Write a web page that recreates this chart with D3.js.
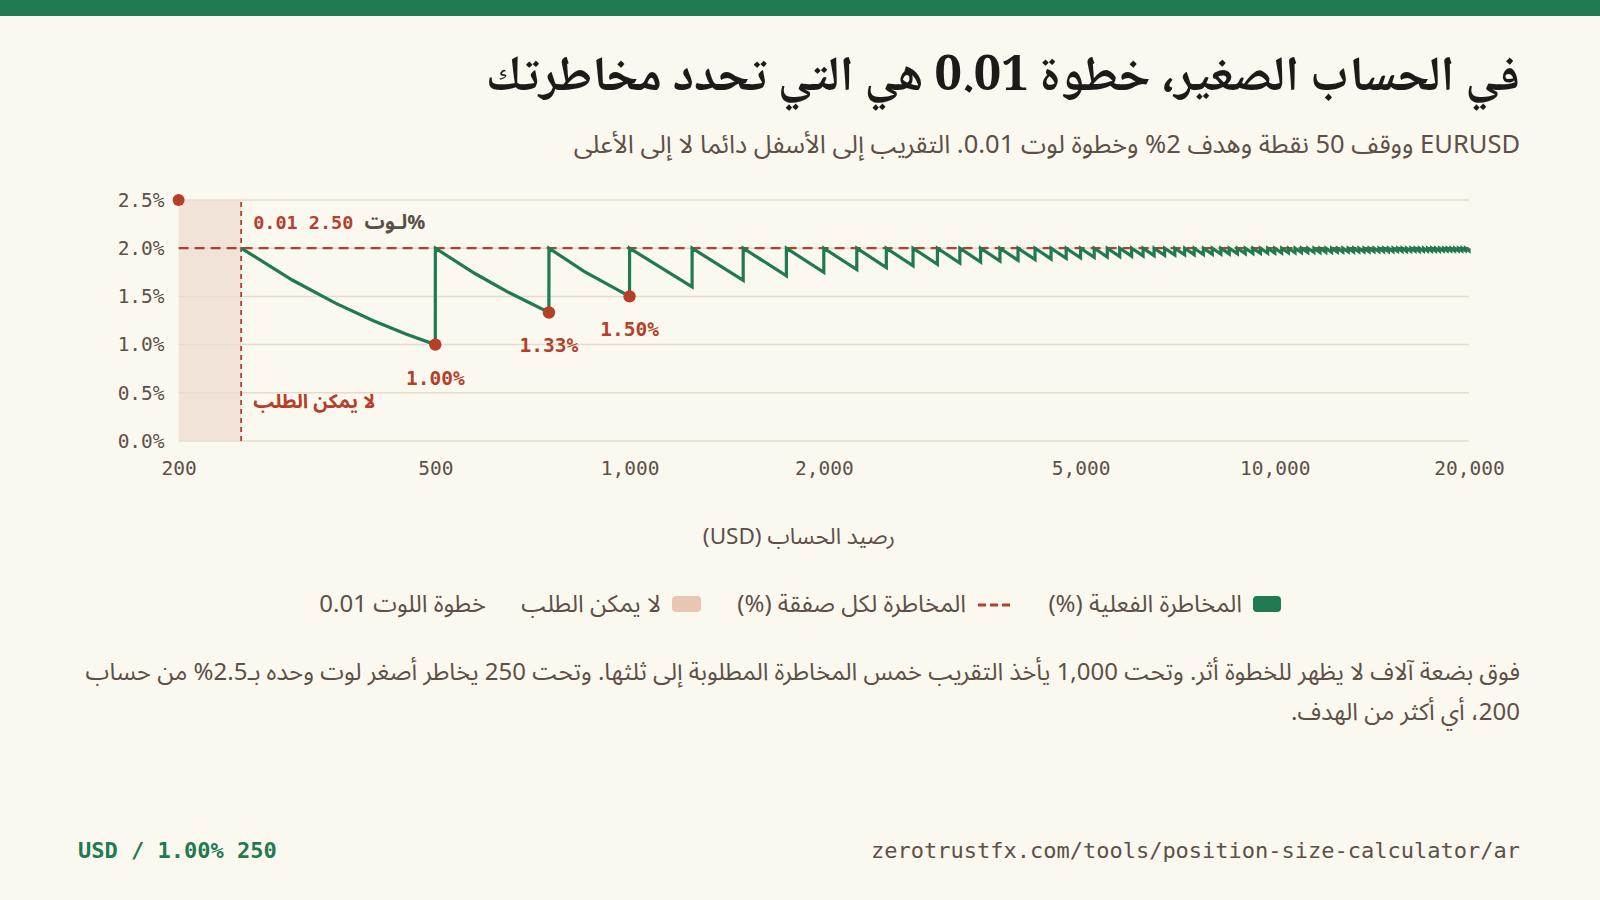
<!DOCTYPE html>
<html>
<head>
<meta charset="utf-8">
<script src="https://cdn.jsdelivr.net/npm/d3@7"></script>
<style>
  body { margin: 0; background: #fbf8ef; }
  svg { display: block; }
</style>
</head>
<body>
<div id="graph"></div>
<script>
// data
const xTicks = [200, 500, 1000, 2000, 5000, 10000, 20000];
const yTicks = [0, 0.5, 1.0, 1.5, 2.0, 2.5];

// first teeth, read with a few points along the curve
const earlyBalance = [250, 300, 350, 400, 450, 499.9, 500, 575, 650, 749.9, 750, 850, 999.9, 1000];
const earlyRisk = [2.0, 1.67, 1.43, 1.25, 1.11, 1.0, 2.0, 1.74, 1.54, 1.333, 2.0, 1.76, 1.5, 2.0];

// later teeth: balance where risk resets to 2%, and the low just before each reset
const resetBalance = [1000,1250,1500,1750,2000,2250,2500,2750,3000,3250,3500,3750,4000,4250,4500,4750,
  5000,5250,5500,5750,6000,6250,6500,6750,7000,7250,7500,7750,8000,8250,8500,8750,9000,9250,9500,9750,
  10000,10250,10500,10750,11000,11250,11500,11750,12000,12250,12500,12750,13000,13250,13500,13750,
  14000,14250,14500,14750,15000,15250,15500,15750,16000,16250,16500,16750,17000,17250,17500,17750,
  18000,18250,18500,18750,19000,19250,19500,19750,20000];
const troughRisk = [1.600,1.667,1.714,1.750,1.778,1.800,1.818,1.833,1.846,1.857,
  1.867,1.875,1.882,1.889,1.895,1.900,1.905,1.909,1.913,1.917,
  1.920,1.923,1.926,1.929,1.931,1.933,1.935,1.938,1.939,1.941,
  1.943,1.944,1.946,1.947,1.949,1.950,1.951,1.952,1.953,1.955,
  1.956,1.957,1.957,1.958,1.959,1.960,1.961,1.962,1.962,1.963,
  1.964,1.964,1.965,1.966,1.966,1.967,1.967,1.968,1.968,1.969,
  1.969,1.970,1.970,1.971,1.971,1.971,1.972,1.972,1.973,1.973,
  1.973,1.974,1.974,1.974,1.975,1.975];

const targetRisk = 2.0;
const minBalance = 250;
const minLotRisk = [200, 2.5];
const dotBalance = [499.9, 749.9, 999.9];
const dotRisk = [1.0, 1.333, 1.5];
const dotLabel = ["1.00%", "1.33%", "1.50%"];

const W = 1600, H = 900;
const green = "#1f7a4f", red = "#b5402a", ink = "#1f1a17", gray = "#5c5048", grid = "#e6dccb";
const arabic = "'Noto Sans Arabic', 'Noto Sans Arabic UI', 'Noto Sans', 'DejaVu Sans', sans-serif";
const arabicTitle = "'Noto Naskh Arabic', 'Noto Sans Arabic', 'Noto Serif', 'DejaVu Sans', serif";
const mono = "'DejaVu Sans Mono', 'Liberation Mono', monospace";

const svg = d3.select("#graph").append("svg")
  .attr("width", W).attr("height", H);

svg.append("rect").attr("width", W).attr("height", H).attr("fill", "#fbf8ef");
svg.append("rect").attr("width", W).attr("height", 16).attr("fill", green);

// title + subtitle
svg.append("text")
  .attr("x", 1520).attr("y", 90)
  .attr("direction", "rtl").attr("text-anchor", "start")
  .attr("font-family", arabicTitle).attr("font-size", 49).attr("font-weight", 700)
  .attr("fill", ink)
  .text("في الحساب الصغير، خطوة 0.01 هي التي تحدد مخاطرتك");

svg.append("text")
  .attr("x", 1520).attr("y", 153)
  .attr("direction", "rtl").attr("text-anchor", "start")
  .attr("font-family", arabic).attr("font-size", 25.5)
  .attr("fill", gray)
  .text("EURUSD ووقف 50 نقطة وهدف 2% وخطوة لوت 0.01. التقريب إلى الأسفل دائما لا إلى الأعلى");

// scales
const x = d3.scaleLog().domain([200, 20000]).range([178.6, 1469]);
const y = d3.scaleLinear().domain([0, 2.5]).range([441, 200]);

const plot = svg.append("g");

// not-possible zone
plot.append("rect")
  .attr("x", x(200)).attr("y", y(2.5))
  .attr("width", x(minBalance) - x(200)).attr("height", y(0) - y(2.5))
  .attr("fill", "#f2e3d9");

// grid
plot.selectAll("line.grid").data(yTicks).join("line")
  .attr("class", "grid")
  .attr("x1", x(200)).attr("x2", x(20000))
  .attr("y1", d => y(d)).attr("y2", d => y(d))
  .attr("stroke", grid).attr("stroke-width", 1.5);

// y axis labels
const yAxis = svg.append("g")
  .attr("transform", `translate(${x(200) - 6},0)`)
  .call(d3.axisLeft(y).tickValues(yTicks).tickSize(0).tickPadding(8).tickFormat(d => d3.format(".1f")(d) + "%"));
yAxis.select(".domain").remove();
yAxis.selectAll("text")
  .attr("font-family", mono).attr("font-size", 19.5).attr("fill", gray);

// x axis labels
const xAxis = svg.append("g")
  .attr("transform", `translate(0,${y(0)})`)
  .call(d3.axisBottom(x).tickValues(xTicks).tickSize(0).tickPadding(20).tickFormat(d3.format(",")));
xAxis.select(".domain").remove();
xAxis.selectAll("text")
  .attr("font-family", mono).attr("font-size", 19.5).attr("fill", gray);

svg.append("text")
  .attr("x", 799).attr("y", 544)
  .attr("direction", "rtl").attr("text-anchor", "middle")
  .attr("font-family", arabic).attr("font-size", 22.5).attr("fill", gray)
  .text("رصيد الحساب (USD)");

// target risk line
plot.append("line")
  .attr("x1", x(200)).attr("x2", x(20000))
  .attr("y1", y(targetRisk)).attr("y2", y(targetRisk))
  .attr("stroke", red).attr("stroke-width", 2.2).attr("stroke-dasharray", "10,6");

// min balance line
plot.append("line")
  .attr("x1", x(minBalance)).attr("x2", x(minBalance))
  .attr("y1", y(0)).attr("y2", y(2.5))
  .attr("stroke", red).attr("stroke-width", 1.8).attr("stroke-dasharray", "5,4");

// effective risk line
const pts = earlyBalance.map((b, i) => [b, earlyRisk[i]]);
troughRisk.forEach((r, i) => {
  pts.push([resetBalance[i], targetRisk]);
  pts.push([resetBalance[i + 1] - 0.01, r]);
});
pts.push([resetBalance[resetBalance.length - 1], targetRisk]);

const line = d3.line().x(d => x(d[0])).y(d => y(d[1]));
plot.append("path")
  .datum(pts)
  .attr("d", line)
  .attr("fill", "none").attr("stroke", green).attr("stroke-width", 3.2)
  .attr("stroke-linejoin", "miter");

// min lot dot
plot.append("circle")
  .attr("cx", x(minLotRisk[0])).attr("cy", y(minLotRisk[1])).attr("r", 6)
  .attr("fill", red);

// trough dots + labels
plot.selectAll("circle.trough").data(dotBalance).join("circle")
  .attr("class", "trough")
  .attr("cx", d => x(d)).attr("cy", (d, i) => y(dotRisk[i])).attr("r", 6.2)
  .attr("fill", red);
plot.selectAll("text.trough").data(dotBalance).join("text")
  .attr("class", "trough")
  .attr("x", d => x(d)).attr("y", (d, i) => y(dotRisk[i]) + 40)
  .attr("text-anchor", "middle")
  .attr("font-family", mono).attr("font-size", 19.5).attr("font-weight", 700)
  .attr("fill", red)
  .text((d, i) => dotLabel[i]);

// annotations
const ann = plot.append("text")
  .attr("x", x(minBalance) + 12).attr("y", 229)
  .attr("font-family", mono).attr("font-size", 18.5).attr("font-weight", 700);
ann.append("tspan").attr("fill", red).text("0.01 2.50 ");
ann.append("tspan").attr("fill", "#5a4f47").attr("font-family", arabic).attr("font-size", 20).text("لـوت%");

plot.append("text")
  .attr("x", x(minBalance) + 12).attr("y", 408)
  .attr("font-family", arabic).attr("font-size", 19.5).attr("font-weight", 700)
  .attr("fill", red)
  .text("لا يمكن الطلب");

// legend
const lg = svg.append("g").attr("font-family", arabic).attr("font-size", 24).attr("fill", gray);
lg.append("rect").attr("x", 1253).attr("y", 596).attr("width", 28).attr("height", 16).attr("rx", 4).attr("fill", green);
lg.append("text").attr("x", 1242).attr("y", 612).attr("direction", "rtl").attr("text-anchor", "start").text("المخاطرة الفعلية (%)");
lg.append("line").attr("x1", 978).attr("x2", 1012).attr("y1", 605).attr("y2", 605)
  .attr("stroke", red).attr("stroke-width", 3).attr("stroke-dasharray", "8,4");
lg.append("text").attr("x", 966).attr("y", 612).attr("direction", "rtl").attr("text-anchor", "start").text("المخاطرة لكل صفقة (%)");
lg.append("rect").attr("x", 672).attr("y", 596).attr("width", 29).attr("height", 16).attr("rx", 4).attr("fill", "#e8c6b3");
lg.append("text").attr("x", 661).attr("y", 612).attr("direction", "rtl").attr("text-anchor", "start").text("لا يمكن الطلب");
lg.append("text").attr("x", 486).attr("y", 612).attr("direction", "rtl").attr("text-anchor", "start").text("خطوة اللوت 0.01");

// note
const note = [
  "فوق بضعة آلاف لا يظهر للخطوة أثر. وتحت 1,000 يأخذ التقريب خمس المخاطرة المطلوبة إلى ثلثها. وتحت 250 يخاطر أصغر لوت وحده بـ2.5% من حساب",
  "200، أي أكثر من الهدف."
];
svg.selectAll("text.note").data(note).join("text")
  .attr("class", "note")
  .attr("x", 1520).attr("y", (d, i) => 680 + i * 40)
  .attr("direction", "rtl").attr("text-anchor", "start")
  .attr("font-family", arabic).attr("font-size", 24).attr("fill", gray)
  .text(d => d);

// footer
svg.append("text")
  .attr("x", 78).attr("y", 858)
  .attr("font-family", mono).attr("font-size", 22).attr("font-weight", 700)
  .attr("fill", green)
  .text("USD / 1.00% 250");
svg.append("text")
  .attr("x", 1520).attr("y", 858).attr("text-anchor", "end")
  .attr("font-family", mono).attr("font-size", 22)
  .attr("fill", gray)
  .text("zerotrustfx.com/tools/position-size-calculator/ar");
</script>
</body>
</html>
